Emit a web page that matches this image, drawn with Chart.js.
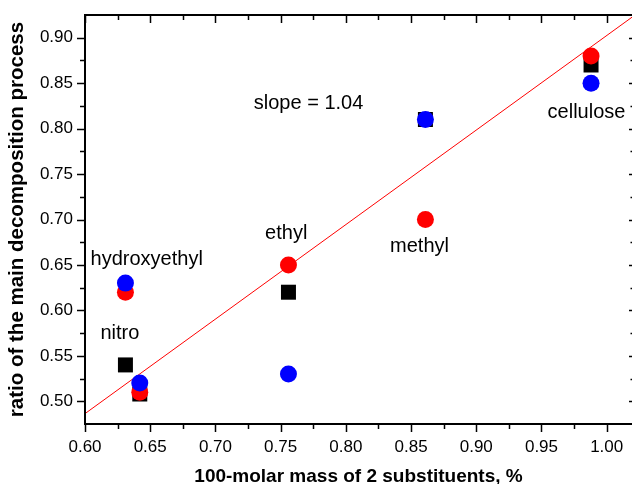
<!DOCTYPE html>
<html>
<head>
<meta charset="utf-8">
<title>Decomposition ratio vs substituent mass</title>
<script src="https://cdn.jsdelivr.net/npm/chart.js@4/dist/chart.umd.min.js"></script>
<style>
    html, body { margin: 0; padding: 0; background: #fff; overflow: hidden; }
    #ratioChart { display: block; }
</style>
</head>
<body>
<canvas id="ratioChart" width="632" height="484"></canvas>
<script>
// x position of each sample (100 - molar mass of 2 substituents)
const sampleX = [0.631, 0.642, 0.756, 0.861, 0.988];

// three measured series, one value per sample
const squareValues = [0.54, 0.508, 0.62, 0.81, 0.87];
const redValues = [0.62, 0.51, 0.65, 0.70, 0.88];
const blueValues = [0.63, 0.52, 0.53, 0.81, 0.85];

// end points of the fitted line
const fitX = [0.60, 1.02];
const fitY = [0.4864, 0.9232];

// tick labels
const xTicks = [0.60, 0.65, 0.70, 0.75, 0.80, 0.85, 0.90, 0.95, 1.00];
const yTicks = [0.50, 0.55, 0.60, 0.65, 0.70, 0.75, 0.80, 0.85, 0.90];

// text notes placed in data units (baseline anchor)
const noteText = ['slope = 1.04', 'cellulose', 'methyl', 'ethyl', 'hydroxyethyl', 'nitro'];
const noteX = [0.7714, 0.9845, 0.8565, 0.7543, 0.6473, 0.6268];
const noteY = [0.8212, 0.8113, 0.6639, 0.6785, 0.6499, 0.5685];

const FONT = 'Arial, "Liberation Sans", sans-serif';

document.addEventListener('DOMContentLoaded', function() {
    drawRatioChart();
});

/**
 * Pair an x array with a y array into Chart.js points
 */
function toPoints(xs, ys) {
    return xs.map((x, i) => ({ x: x, y: ys[i] }));
}

/**
 * Midpoints between major ticks, used for the minor tick marks
 */
function minorsOf(ticks) {
    const out = [];
    for (let i = 0; i < ticks.length - 1; i++) {
        out.push((ticks[i] + ticks[i + 1]) / 2);
    }
    return out;
}

/**
 * Pin a scale's size and drop the label-overflow padding Chart.js adds
 */
function pinScale(size) {
    return scale => {
        if (scale.isHorizontal()) scale.height = size;
        else scale.width = size;
        scale.paddingLeft = 0;
        scale.paddingRight = 0;
        scale.paddingTop = 0;
        scale.paddingBottom = 0;
    };
}

// Draws the axis frame with major/minor ticks (outer on left/bottom, inner on top/right)
// The right axis sits just past the canvas edge, so only its tick stubs show.
const framePlugin = {
    id: 'frame',
    afterDatasetsDraw(chart) {
        const { ctx, chartArea: a, scales } = chart;
        const xs = scales.x, ys = scales.y;
        const rightEdge = a.right + 1;
        ctx.save();
        ctx.strokeStyle = '#000';
        ctx.lineWidth = 1.5;
        ctx.beginPath();

        const xMarks = xTicks.map(v => [v, 8]).concat(minorsOf(xTicks).map(v => [v, 5]));
        xMarks.forEach(([v, len]) => {
            const px = Math.round(xs.getPixelForValue(v)) + 0.5;
            ctx.moveTo(px, a.bottom);
            ctx.lineTo(px, a.bottom + len);
            ctx.moveTo(px, a.top);
            ctx.lineTo(px, a.top + len);
        });

        const yMarks = yTicks.map(v => [v, 8]).concat(minorsOf(yTicks).map(v => [v, 5]));
        yMarks.forEach(([v, len]) => {
            const py = Math.round(ys.getPixelForValue(v)) + 0.5;
            ctx.moveTo(a.left, py);
            ctx.lineTo(a.left - len, py);
            ctx.moveTo(rightEdge, py);
            ctx.lineTo(rightEdge - len / 2, py);
        });
        ctx.stroke();

        // left, top and bottom axis lines
        ctx.lineWidth = 2;
        ctx.beginPath();
        ctx.moveTo(rightEdge, a.top);
        ctx.lineTo(a.left, a.top);
        ctx.lineTo(a.left, a.bottom);
        ctx.lineTo(rightEdge, a.bottom);
        ctx.stroke();
        ctx.restore();
    }
};

// Writes the sample names and the slope note
const notesPlugin = {
    id: 'notes',
    afterDatasetsDraw(chart) {
        const { ctx, scales } = chart;
        ctx.save();
        ctx.fillStyle = '#000';
        ctx.font = '20px ' + FONT;
        ctx.textAlign = 'center';
        ctx.textBaseline = 'alphabetic';
        noteText.forEach((t, i) => {
            ctx.fillText(t, scales.x.getPixelForValue(noteX[i]), scales.y.getPixelForValue(noteY[i]));
        });
        ctx.restore();
    }
};

/**
 * Build the scatter chart
 */
function drawRatioChart() {
    const ctx = document.getElementById('ratioChart');
    if (!ctx) return;

    new Chart(ctx, {
        type: 'scatter',
        data: {
            datasets: [
                {
                    label: 'blue',
                    data: toPoints(sampleX, blueValues),
                    backgroundColor: '#0000ff',
                    pointRadius: 8.5,
                    pointBorderWidth: 0,
                    pointStyle: 'circle'
                },
                {
                    label: 'red',
                    data: toPoints(sampleX, redValues),
                    backgroundColor: '#ff0000',
                    pointRadius: 8.5,
                    pointBorderWidth: 0,
                    pointStyle: 'circle'
                },
                {
                    label: 'black',
                    data: toPoints(sampleX, squareValues),
                    backgroundColor: '#000000',
                    pointRadius: 10.6,
                    pointBorderWidth: 0,
                    pointStyle: 'rect'
                },
                {
                    label: 'fit',
                    type: 'line',
                    data: toPoints(fitX, fitY),
                    borderColor: '#ff0000',
                    borderWidth: 1,
                    pointRadius: 0,
                    fill: false
                }
            ]
        },
        options: {
            responsive: false,
            animation: false,
            layout: { autoPadding: false, padding: { left: 0, top: 15, right: 0, bottom: 0 } },
            plugins: {
                legend: { display: false },
                tooltip: { enabled: false }
            },
            scales: {
                x: {
                    type: 'linear',
                    position: 'bottom',
                    min: 0.60,
                    max: 1.0194,
                    afterFit: pinScale(60),
                    afterBuildTicks: scale => { scale.ticks = xTicks.map(v => ({ value: v })); },
                    grid: { display: true, drawOnChartArea: false, drawTicks: true, tickLength: 8, color: 'rgba(0,0,0,0)' },
                    border: { display: false },
                    ticks: {
                        color: '#000',
                        padding: 5,
                        maxRotation: 0,
                        autoSkip: false,
                        font: { family: FONT, size: 17 },
                        callback: value => Number(value).toFixed(2)
                    },
                    title: {
                        display: true,
                        text: '100-molar mass of 2 substituents, %',
                        color: '#000',
                        font: { family: FONT, size: 19, weight: 'bold', lineHeight: 0.8 },
                        padding: { top: 0, bottom: 0 }
                    }
                },
                y: {
                    type: 'linear',
                    position: 'left',
                    min: 0.475,
                    max: 0.925,
                    afterFit: pinScale(85),
                    afterBuildTicks: scale => { scale.ticks = yTicks.map(v => ({ value: v })); },
                    grid: { display: true, drawOnChartArea: false, drawTicks: true, tickLength: 8, color: 'rgba(0,0,0,0)' },
                    border: { display: false },
                    ticks: {
                        color: '#000',
                        padding: 4,
                        autoSkip: false,
                        font: { family: FONT, size: 17 },
                        callback: value => Number(value).toFixed(2)
                    },
                    title: {
                        display: true,
                        text: 'ratio of the main decomposition process',
                        color: '#000',
                        font: { family: FONT, size: 20.5, weight: 'bold' },
                        padding: { top: 5, bottom: 0 }
                    }
                }
            }
        },
        plugins: [framePlugin, notesPlugin]
    });
}
</script>
</body>
</html>
